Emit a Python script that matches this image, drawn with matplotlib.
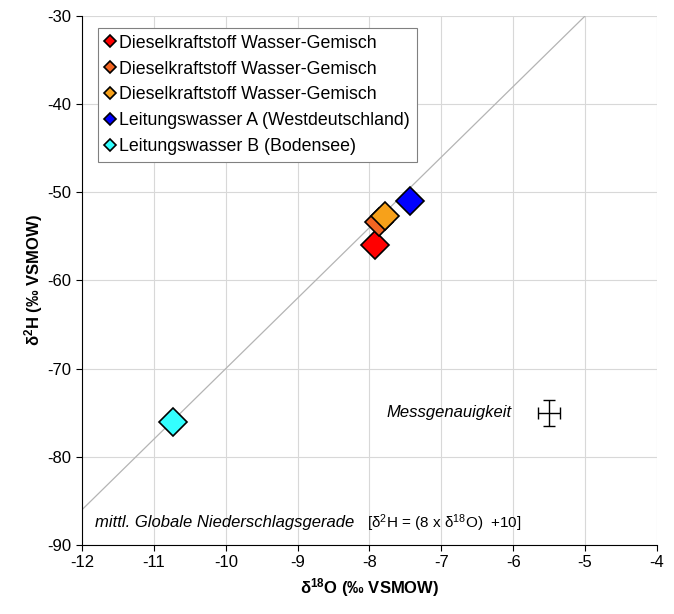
import matplotlib
matplotlib.use("Agg")
import matplotlib.pyplot as plt
import numpy as np

plt.rcParams['font.family'] = ['Liberation Sans', 'DejaVu Sans']
plt.rcParams['mathtext.fontset'] = 'custom'
plt.rcParams['mathtext.rm'] = 'Liberation Sans'
plt.rcParams['mathtext.it'] = 'Liberation Sans:italic'
plt.rcParams['mathtext.bf'] = 'Liberation Sans:bold'
plt.rcParams['axes.unicode_minus'] = False

labels = ["Dieselkraftstoff Wasser-Gemisch",
          "Dieselkraftstoff Wasser-Gemisch",
          "Dieselkraftstoff Wasser-Gemisch",
          "Leitungswasser A (Westdeutschland)",
          "Leitungswasser B (Bodensee)"]
d18O = [-7.93, -7.87, -7.78, -7.44, -10.74]
d2H = [-56.0, -53.4, -52.7, -51.0, -76.0]
colors = ["#FF0000", "#F26522", "#F7A11A", "#0000FF", "#33FFFF"]

gmwl_x = [-12, -5]
gmwl_slope = 8
gmwl_intercept = 10

err_x, err_y = -5.5, -75.0
err_dx, err_dy = 0.15, 1.5

fig = plt.figure(figsize=(6.74, 6.14), dpi=100)
ax = fig.add_axes([0.1217, 0.1124, 0.853, 0.8616])

ax.set_xlim(-12, -4)
ax.set_ylim(-90, -30)
ax.set_xticks(np.arange(-12, -3, 1))
ax.set_yticks(np.arange(-90, -29, 10))
ax.grid(True, color="#D8D8D8", linewidth=0.8)
ax.set_axisbelow(True)
for s in ['top', 'right']:
    ax.spines[s].set_visible(False)
ax.spines['left'].set_color('black')
ax.spines['bottom'].set_color('black')
ax.tick_params(direction='out', length=4, labelsize=12, colors='black')

gx = np.array(gmwl_x, dtype=float)
ax.plot(gx, gmwl_slope * gx + gmwl_intercept, color="#B4B4B4", linewidth=0.9, zorder=2)

for x, y, c, l in zip(d18O, d2H, colors, labels):
    ax.plot([x], [y], marker='D', markersize=14, markerfacecolor=c,
            markeredgecolor='black', markeredgewidth=1.2, linestyle='none',
            label=l, zorder=3)

ax.errorbar([err_x], [err_y], xerr=[err_dx], yerr=[err_dy], fmt='none',
            ecolor='black', elinewidth=1.0, capsize=4, capthick=1.0, zorder=3)
ax.text(err_x - 0.52, err_y, "Messgenauigkeit", style='italic', fontsize=12,
        ha='right', va='center')

ax.text(-11.82, -87.5, "mittl. Globale Niederschlagsgerade", style='italic',
        fontsize=12, ha='left', va='center')
ax.text(-8.03, -87.5, "[δ$^{2}$H = (8 x δ$^{18}$O)  +10]",
        fontsize=11, ha='left', va='center')

ax.set_xlabel(r"δ$^{\mathbf{18}}$O (‰ VSMOW)", fontsize=12, fontweight='bold', labelpad=4)
ax.set_ylabel(r"δ$^{\mathbf{2}}$H (‰ VSMOW)", fontsize=12, fontweight='bold', labelpad=2)

leg = ax.legend(loc='upper left', bbox_to_anchor=(0.028, 0.978), fontsize=12.8,
                markerscale=0.45, handlelength=0.5, handletextpad=0.3,
                labelspacing=0.5, borderpad=0.4, borderaxespad=0,
                fancybox=False, framealpha=1, edgecolor='#808080')
leg.get_frame().set_linewidth(0.8)

fig.savefig("out.png", dpi=100)
